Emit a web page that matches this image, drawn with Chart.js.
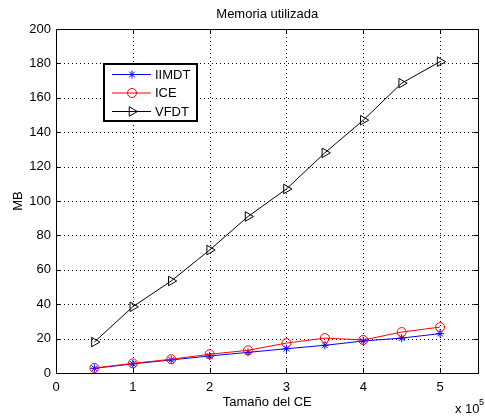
<!DOCTYPE html>
<html>
<head>
<meta charset="utf-8">
<script src="https://cdn.jsdelivr.net/npm/chart.js@4/dist/chart.umd.min.js"></script>
<style>
  html, body { margin: 0; padding: 0; background: #fff; }
  canvas { display: block; }
</style>
</head>
<body>
<canvas id="memChart" width="485" height="417"></canvas>
<script>
// tamaño del CE (x 10^5) y memoria en MB
const sizes = [0.5, 1, 1.5, 2, 2.5, 3, 3.5, 4, 4.5, 5];
const iimdt = [2.7, 5.3, 7.6, 9.9, 12.0, 14.1, 16.1, 18.6, 20.3, 22.9];
const ice = [2.9, 5.6, 8.0, 10.9, 13.2, 17.4, 20.3, 19.2, 23.8, 26.7];
const vfdt = [18, 38.5, 53.5, 71.5, 91, 107, 128, 147, 168.5, 181];
const xTicks = [0, 1, 2, 3, 4, 5];
const yTicks = [0, 20, 40, 60, 80, 100, 120, 140, 160, 180, 200];

const FONT = "'Liberation Sans', Arial, Helvetica, sans-serif";

const toPoints = (ys) => ys.map((y, i) => ({ x: sizes[i], y }));

const series = [
  { label: "IIMDT", data: iimdt, color: "#0000ff", pointStyle: "star", radius: 4, rotation: 0, order: 3 },
  { label: "ICE", data: ice, color: "#ff0000", pointStyle: "circle", radius: 4.5, rotation: 0, order: 2 },
  { label: "VFDT", data: vfdt, color: "#000000", pointStyle: "triangle", radius: 5.5, rotation: 90, order: 1 },
];

// dotted grid behind the lines
const dottedGrid = {
  id: "dottedGrid",
  beforeDatasetsDraw(chart) {
    const { ctx, chartArea: a, scales } = chart;
    ctx.save();
    ctx.strokeStyle = "#000";
    ctx.lineWidth = 1;
    ctx.setLineDash([1, 3]);
    ctx.beginPath();
    xTicks.forEach((v) => {
      const px = Math.round(scales.x.getPixelForValue(v)) + 0.5;
      ctx.moveTo(px, a.top); ctx.lineTo(px, a.bottom);
    });
    yTicks.forEach((v) => {
      const py = Math.round(scales.y.getPixelForValue(v)) + 0.5;
      ctx.moveTo(a.left, py); ctx.lineTo(a.right, py);
    });
    ctx.stroke();
    ctx.restore();
  },
};

// texts, box frame, inward ticks and the legend, drawn on top of the chart
const decorations = {
  id: "decorations",
  afterDraw(chart) {
    const { ctx, chartArea: a, scales } = chart;
    ctx.save();
    ctx.strokeStyle = "#000";
    ctx.lineWidth = 1;
    ctx.strokeRect(Math.round(a.left) + 0.5, Math.round(a.top) + 0.5,
      Math.round(a.right - a.left) - 1, Math.round(a.bottom - a.top));

    // inward tick marks on all four sides
    ctx.beginPath();
    xTicks.forEach((v) => {
      const px = Math.round(scales.x.getPixelForValue(v)) + 0.5;
      ctx.moveTo(px, a.bottom); ctx.lineTo(px, a.bottom - 5);
      ctx.moveTo(px, a.top); ctx.lineTo(px, a.top + 5);
    });
    yTicks.forEach((v) => {
      const py = Math.round(scales.y.getPixelForValue(v)) + 0.5;
      ctx.moveTo(a.left, py); ctx.lineTo(a.left + 5, py);
      ctx.moveTo(a.right, py); ctx.lineTo(a.right - 5, py);
    });
    ctx.stroke();

    ctx.fillStyle = "#000";
    ctx.font = "13px " + FONT;
    ctx.textAlign = "center";
    ctx.textBaseline = "middle";
    const cx = (a.left + a.right) / 2;
    ctx.fillText("Memoria utilizada", cx, 14);
    ctx.fillText("Tamaño del CE", cx, 402);

    ctx.save();
    ctx.translate(18, (a.top + a.bottom) / 2);
    ctx.rotate(-Math.PI / 2);
    ctx.fillText("MB", 0, 0);
    ctx.restore();

    ctx.textAlign = "left";
    ctx.fillText("x 10", 455, 409);
    ctx.font = "9px " + FONT;
    ctx.fillText("5", 479, 403);

    // legend with white background over the grid
    ctx.fillStyle = "#fff";
    ctx.fillRect(104, 64, 93, 57);
    ctx.lineWidth = 2;
    ctx.strokeRect(104, 64, 93, 57);
    ctx.font = "13px " + FONT;
    series.forEach((s, i) => {
      const y = 74 + i * 18.5;
      ctx.strokeStyle = s.color;
      ctx.fillStyle = "rgba(0,0,0,0)";
      ctx.lineWidth = 1;
      ctx.beginPath();
      ctx.moveTo(112, y + 0.5);
      ctx.lineTo(151, y + 0.5);
      ctx.stroke();
      Chart.helpers.drawPoint(ctx, {
        pointStyle: s.pointStyle, radius: s.radius, rotation: s.rotation, borderWidth: 1,
      }, 132, y + 0.5);
      ctx.fillStyle = "#000";
      ctx.fillText(s.label, 155, y + 1);
    });
    ctx.restore();
  },
};

const fixedTicks = (values) => (scale) => {
  scale.ticks = values.map((value) => ({ value }));
};

new Chart(document.getElementById("memChart"), {
  type: "line",
  data: {
    datasets: series.map((s) => ({
      label: s.label,
      data: toPoints(s.data),
      order: s.order,
      borderColor: s.color,
      backgroundColor: "transparent",
      borderWidth: 1,
      pointStyle: s.pointStyle,
      pointRadius: s.radius,
      pointRotation: s.rotation,
      pointBorderColor: s.color,
      pointBackgroundColor: "transparent",
      pointBorderWidth: 1,
      tension: 0,
      fill: false,
    })),
  },
  options: {
    responsive: false,
    animation: false,
    events: [],
    layout: { padding: { top: 29, right: 1, left: 0, bottom: 0 } },
    plugins: { legend: { display: false }, title: { display: false }, tooltip: { enabled: false } },
    scales: {
      x: {
        type: "linear",
        min: 0,
        max: 5.5,
        afterBuildTicks: fixedTicks(xTicks),
        afterFit: (scale) => { scale.height = 44; },
        grid: { display: false, drawTicks: false },
        border: { display: false },
        ticks: { color: "#000", font: { family: FONT, size: 13 }, padding: 7, maxRotation: 0 },
      },
      y: {
        type: "linear",
        min: 0,
        max: 200,
        afterBuildTicks: fixedTicks(yTicks),
        afterFit: (scale) => { scale.width = 56; },
        grid: { display: false, drawTicks: false },
        border: { display: false },
        ticks: { color: "#000", font: { family: FONT, size: 13 }, padding: 5 },
      },
    },
  },
  plugins: [dottedGrid, decorations],
});
</script>
</body>
</html>
